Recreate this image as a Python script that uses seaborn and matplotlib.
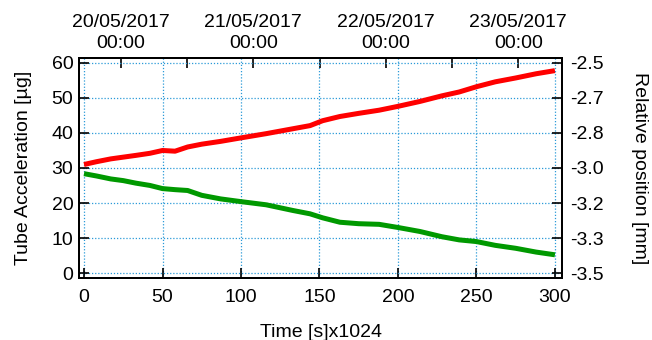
import numpy as np
import pandas as pd
import matplotlib
matplotlib.use("Agg")
import matplotlib.pyplot as plt
import seaborn as sns

# Time axis in units of 1024 s
time_ks = [0, 8, 17, 25, 33, 42, 50, 58, 66, 75, 87, 100, 116, 133, 144, 152,
           163, 175, 188, 200, 214, 228, 239, 250, 262, 275, 288, 300]

# Tube acceleration [µg]
acceleration = [31.0, 31.8, 32.6, 33.1, 33.6, 34.2, 35.0, 34.8, 36.0, 36.8, 37.6,
                 38.6, 39.8, 41.2, 42.1, 43.5, 44.7, 45.6, 46.5, 47.6, 49.0, 50.6,
                 51.7, 53.2, 54.6, 55.7, 56.9, 57.8]

# Relative position [mm]
position = [-3.027, -3.038, -3.052, -3.060, -3.072, -3.083, -3.098, -3.103, -3.107,
            -3.130, -3.147, -3.160, -3.175, -3.202, -3.218, -3.237, -3.258, -3.265,
            -3.268, -3.283, -3.302, -3.327, -3.342, -3.350, -3.368, -3.382, -3.400,
            -3.413]

start_time = pd.Timestamp("2017-05-19 17:19")
date_major = ["2017-05-20 00:00", "2017-05-21 00:00", "2017-05-22 00:00", "2017-05-23 00:00"]
date_minor = ["2017-05-20 12:00", "2017-05-21 12:00", "2017-05-22 12:00"]

x_ticks = [0, 50, 100, 150, 200, 250, 300]
left_ticks = [0, 10, 20, 30, 40, 50, 60]

sns.set_theme(style="ticks")
plt.rcParams["font.family"] = ["Liberation Sans", "DejaVu Sans"]
plt.rcParams["axes.unicode_minus"] = False
plt.rcParams["text.color"] = "black"
plt.rcParams["axes.labelcolor"] = "black"
plt.rcParams["xtick.color"] = "black"
plt.rcParams["ytick.color"] = "black"
plt.rcParams["xtick.labelcolor"] = "black"
plt.rcParams["ytick.labelcolor"] = "black"

FS = 14
df = pd.DataFrame({"t": time_ks, "acc": acceleration, "pos": position})

fig = plt.figure(figsize=(6.52, 3.40), dpi=100)
ax = fig.add_axes([79 / 652, 1 - 278 / 340, 483 / 652, 220 / 340])

grid_kw = dict(color="#2a9ad8", linestyle=(0, (1, 1.5)), linewidth=0.9)
ax.set_axisbelow(True)
ax.grid(True, **grid_kw)

line_kw = dict(linewidth=3.6, legend=False, zorder=3,
               solid_joinstyle="round", solid_capstyle="butt")
sns.lineplot(data=df, x="t", y="acc", ax=ax, color="#ff0000", **line_kw)
ax.set_xlim(-3.2, 304.5)
ax.set_ylim(-1.4, 61.4)
ax.set_xticks(x_ticks)
ax.set_yticks(left_ticks)
ax.set_xlabel("Time [s]x1024", fontsize=FS, labelpad=13)
ax.set_ylabel("Tube Acceleration [µg]", fontsize=FS, labelpad=14)
ax.tick_params(axis="both", direction="in", length=7, width=1.2, labelsize=FS)
ax.tick_params(axis="x", pad=8)
ax.tick_params(axis="y", pad=4)

ax2 = ax.twinx()
sns.lineplot(data=df, x="t", y="pos", ax=ax2, color="#009900", **line_kw)
lo = -3.5 - 1.4 / 60
hi = -2.5 + 1.4 / 60
ax2.set_ylim(lo, hi)
right_ticks = np.linspace(-3.5, -2.5, 7)
ax2.set_yticks(right_ticks)
ax2.set_yticklabels([f"{v:.1f}" for v in right_ticks])
ax2.set_ylabel("Relative position [mm]", fontsize=FS, rotation=-90, labelpad=32)
ax2.tick_params(axis="y", direction="in", length=7, width=1.2, labelsize=FS, pad=6)
ax2.grid(False)

def to_ks(s):
    return (pd.Timestamp(s) - start_time).total_seconds() / 1024

top = ax.secondary_xaxis("top")
top.set_xticks([to_ks(d) for d in date_major])
top.set_xticklabels([pd.Timestamp(d).strftime("%d/%m/%Y\n%H:%M") for d in date_major],
                    fontsize=FS, linespacing=1.25)
top.set_xticks([to_ks(d) for d in date_minor], minor=True)
top.tick_params(axis="x", which="both", direction="in", length=7, width=1.2, pad=4.5)

for a in (ax, ax2):
    for sp in a.spines.values():
        sp.set_color("black")
        sp.set_linewidth(1.4)
top.spines["top"].set_linewidth(1.4)

fig.savefig("out.png", dpi=100)
